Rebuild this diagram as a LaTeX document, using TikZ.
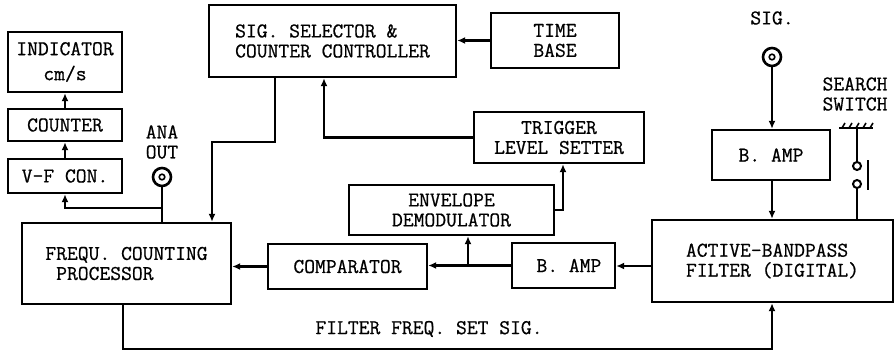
\documentclass[tikz,border=0pt]{standalone}
\usepackage{fontspec}
\newfontfamily\diagfont{Latin Modern Mono}[FakeBold=0.7]
\usepackage{tikz}
\usetikzlibrary{arrows.meta}

\tikzset{
  blk/.style={draw=black, line width=2.4pt, inner sep=0pt},
  jack/.style={circle, draw=black, line width=2.6pt, minimum size=18pt, inner sep=0pt,
    path picture={\draw[line width=1.6pt] (path picture bounding box.center) circle (2.8pt);}},
  swc/.style={circle, draw=black, line width=2pt, minimum size=8pt, inner sep=0pt},
  lbl/.style={align=center, inner sep=0pt},
  wire/.style={line width=2.4pt, -{Latex[length=8pt,width=7pt]}}
}

\begin{document}
\begin{tikzpicture}[x=1pt, y=-1pt,
  every node/.style={font=\diagfont\fontsize{21}{20}\selectfont}]
  \useasboundingbox (0,0) rectangle (896,350);

  % left column
  \node[blk, minimum width=114pt, minimum height=60pt, lbl] (ind) at (65,62) {INDICATOR\\[5pt]cm/s};
  \node[blk, minimum width=114pt, minimum height=32pt] (cnt) at (65,125) {COUNTER};
  \node[blk, minimum width=114pt, minimum height=34pt] (vf) at (65,176) {V-F CON.};
  \node[blk, minimum width=209pt, minimum height=81pt, align=left] (freq) at (126.5,263.5) {FREQU. COUNTING\\\ PROCESSOR};
  \node[lbl] (analbl) at (162,142) {ANA\\OUT};
  \node[jack] (ana) at (162,177) {};

  % middle
  \node[blk, minimum width=247pt, minimum height=72pt, align=left] (sel) at (332.5,41) {SIG. SELECTOR \&\\COUNTER CONTROLLER};
  \node[blk, minimum width=128pt, minimum height=55pt, lbl] (tb) at (555,40.5) {TIME\\BASE};
  \node[blk, minimum width=170pt, minimum height=51pt, lbl] (trig) at (559,137.5) {TRIGGER\\LEVEL SETTER};
  \node[blk, minimum width=205pt, minimum height=50pt, lbl] (env) at (451.5,210) {ENVELOPE\\DEMODULATOR};
  \node[blk, minimum width=159pt, minimum height=45pt] (comp) at (347.5,266.5) {COMPARATOR};
  \node[blk, minimum width=103pt, minimum height=45pt] (bamptwo) at (563.5,265.5) {\ B. AMP};
  \node[lbl] (setlbl) at (429,329) {FILTER FREQ. SET SIG.};

  % right column
  \node[lbl] (siglbl) at (772,18) {SIG.};
  \node[jack] (sig) at (772,57) {};
  \node[blk, minimum width=118pt, minimum height=50pt] (bampone) at (771,155) {B. AMP};
  \node[blk, minimum width=241pt, minimum height=82pt, align=left] (abf) at (772.5,261) {ACTIVE-BANDPASS\\FILTER (DIGITAL)};
  \node[lbl] (swlbl) at (855,94) {SEARCH\\SWITCH};
  \coordinate (gnd) at (857,128);
  \node[swc] (swa) at (857,166) {};
  \node[swc] (swb) at (857,184) {};

  % connectors
  \draw[wire] (vf) -- (cnt);
  \draw[wire] (cnt) -- (ind);
  \draw[line width=2.4pt] (ana) -- (ana |- freq.north);
  \coordinate (tap) at (162,208);
  \draw[wire] (tap) -| (vf.south);
  \draw[wire] ([xshift=-57.5pt]sel.south) -- ++(0,64) -| ([xshift=85.5pt]freq.north);
  \draw[wire] (tb.west) -- (tb.west -| sel.east);
  \draw[wire] (trig.west) -| ([xshift=-8.5pt]sel.south);
  \draw[wire] (env.east) -| ([xshift=4pt]trig.south);
  \draw[wire] (comp.west) -- (comp.west -| freq.east);
  \draw[wire] (bamptwo.west) -- (bamptwo.west -| comp.east);
  \coordinate (split) at (468,266);
  \draw[wire] (split) -- (split |- env.south);
  \draw[wire] ([yshift=-5pt]abf.west) -- ([yshift=-5pt]abf.west -| bamptwo.east);
  \draw[wire] (sig) -- (sig |- bampone.north);
  \draw[wire] (bampone.south -| sig) -- (sig |- abf.north);
  \draw[wire] ([xshift=-3.5pt]freq.south) -- ++(0,44) -| (sig |- abf.south);

  % search switch
  \draw[line width=2.4pt] (839,128) -- (873,128);
  \foreach \x in {842,849,856,863,870}
    \draw[line width=1.6pt] (\x,128) -- ++(3,-5);
  \draw[line width=2.4pt] (gnd) -- (swa);
  \draw[line width=2.4pt] (swb) -- (swb |- abf.north);
  \draw[line width=2.4pt] (868,160) -- (868,190);

\end{tikzpicture}
\end{document}
